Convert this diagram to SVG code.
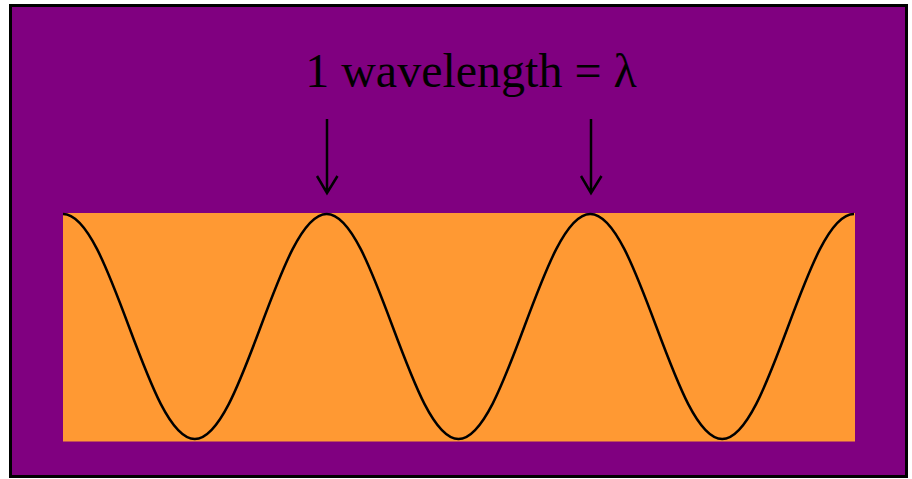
<svg xmlns="http://www.w3.org/2000/svg" width="912" height="479" viewBox="0 0 912 479">
<style>
.arrow{stroke:#000;stroke-width:2.5;fill:none}
.label{font-family:"Liberation Serif","Times New Roman",serif;font-size:48px;fill:#000}
</style>
<rect width="912" height="479" fill="#fff"/>
<g id="frame">
<rect x="10.5" y="5.5" width="896" height="471" fill="#800080" stroke="#000" stroke-width="3"/>
</g>
<g id="medium">
<rect x="63" y="213" width="792" height="228.5" fill="#FF9933"/>
</g>
<g id="wave">
<path d="M63,214 C110.9,214 146.9,439 194.8,439 S278.8,214 326.7,214 S410.6,439 458.5,439 S542.4,214 590.3,214 S674.3,439 722.2,439 S806.1,214 854,214" fill="none" stroke="#000" stroke-width="2.5"/>
</g>
<g id="title">
<text class="label" x="471" y="87" text-anchor="middle">1 wavelength = λ</text>
</g>
<g id="connectors">
<path class="arrow" d="M327,119 V193 M317,176 L327,193 L337.5,176"/>
<path class="arrow" d="M591,119 V193 M581,176 L591,193 L601.5,176"/>
</g>
</svg>
